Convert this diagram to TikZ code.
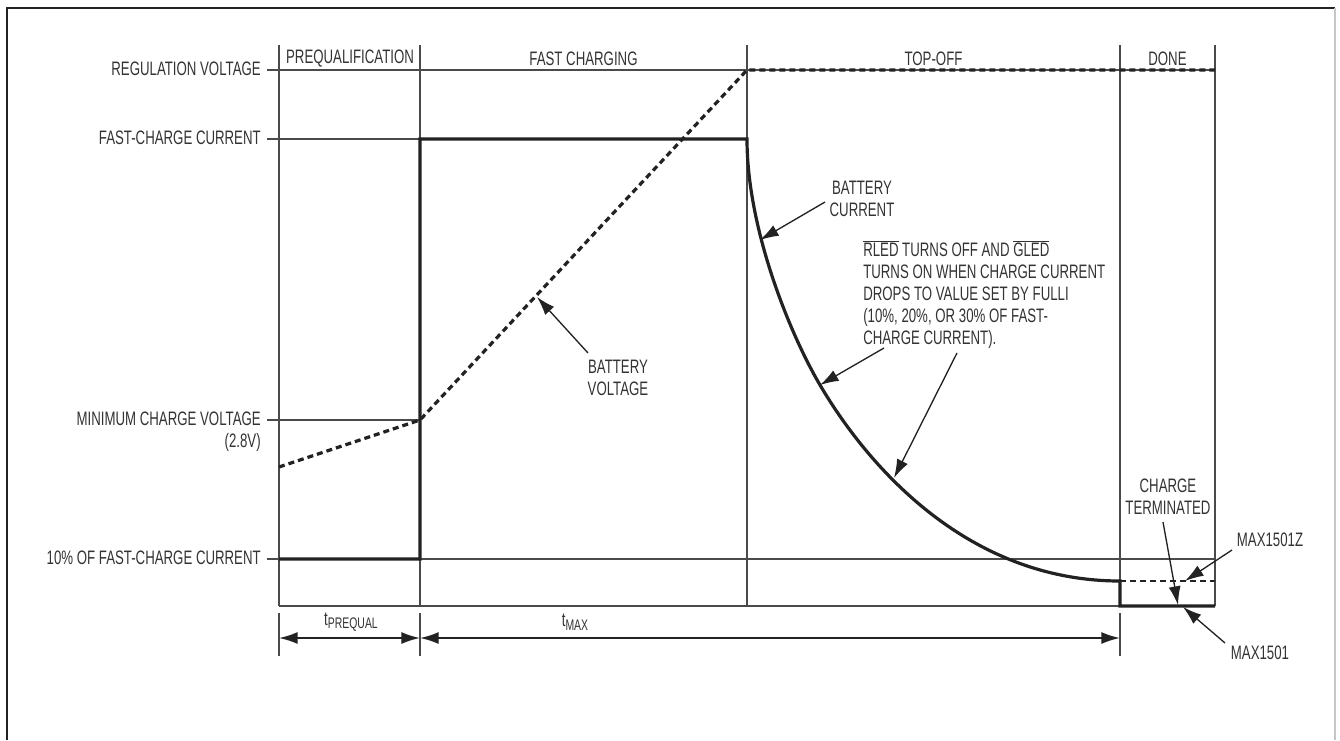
\documentclass[tikz,border=0pt]{standalone}
\usepackage{fontspec}
\setmainfont[FakeStretch=0.68]{Liberation Sans}
\usetikzlibrary{arrows.meta}
\definecolor{txt}{HTML}{333333}
\definecolor{ln}{HTML}{4A4A4A}
\definecolor{thk}{HTML}{222222}
\begin{document}
\begin{tikzpicture}[x=0.75pt,y=-0.75pt,
  lbl/.style={text=txt,font=\fontsize{14.6}{16.5}\selectfont,inner sep=0pt},
  gridline/.style={draw=ln,line width=0.8pt},
  curr/.style={draw=thk,line width=2.4pt,line join=miter},
  volt/.style={draw=thk,line width=2.4pt,dash pattern=on 4.5pt off 3pt},
  ptr/.style={draw=thk,line width=1pt,-{Latex[length=14pt,width=9pt]}},
  dimline/.style={draw=thk,line width=1.3pt,{Latex[length=14pt,width=9pt]}-{Latex[length=14pt,width=9pt]}}]
\useasboundingbox (0,0) rectangle (1340,740);
% frame
\draw[draw=thk,line width=2.2pt] (7,740) -- (7,8) -- (1335,8);
\draw[draw=gray!45,line width=0.8pt] (1335,8) -- (1335,740);
% grid verticals
\foreach \xx in {279,420,747,1120,1215} \draw[gridline] (\xx,45) -- (\xx,606);
% grid horizontals
\draw[gridline] (267,70) -- (1215,70);
\draw[gridline] (267,139) -- (420,139);
\draw[gridline] (267,420) -- (420,420);
\draw[gridline] (267,559) -- (1215,559);
\draw[gridline] (279,606) -- (1215,606);
% time ticks
\foreach \xx in {279,420,1120} \draw[gridline] (\xx,613) -- (\xx,656);
% axis labels
\node[lbl,anchor=east] (reg) at (261,69) {REGULATION VOLTAGE};
\node[lbl,anchor=east] (fcc) at (261,138) {FAST-CHARGE CURRENT};
\node[lbl,anchor=east] (mcv) at (261,419) {MINIMUM CHARGE VOLTAGE};
\node[lbl,anchor=east] (mcv2) at (261,442) {(2.8V)};
\node[lbl,anchor=east] (ten) at (261,558) {10\% OF FAST-CHARGE CURRENT};
% phase labels
\node[lbl] (pq) at (350,59) {PREQUALIFICATION};
\node[lbl] (fc) at (583.5,59) {FAST CHARGING};
\node[lbl] (to) at (933.5,59) {TOP-OFF};
\node[lbl] (dn) at (1167.5,59) {DONE};
% battery voltage
\draw[volt] (279,467) -- (420,420) -- (747,70) -- (1215,70);
% battery current
\draw[curr] (279,559) -- (420,559) -- (420,139) -- (747,139)
  .. controls (747,229) and (790,334) .. (820,385)
  .. controls (870,470) and (970,581) .. (1120,581) -- (1120,606) -- (1215,606);
\draw[volt,line width=2pt] (1120,581) -- (1215,581);
% annotations
\node[lbl,align=center] (bv) at (618,378) {BATTERY\\VOLTAGE};
\coordinate (bvs) at (588,353);
\coordinate (bvt) at (537,297);
\draw[ptr] (bvs) -- (bvt);
\node[lbl,align=center] (bc) at (862,199) {BATTERY\\CURRENT};
\coordinate (bcs) at (825,202);
\coordinate (bct) at (760,240);
\draw[ptr] (bcs) -- (bct);
\node[lbl,align=left,anchor=north west] (led) at (863,240) {$\overline{\mbox{RLED}}$ TURNS OFF AND $\overline{\mbox{GLED}}$\\TURNS ON WHEN CHARGE CURRENT\\DROPS TO VALUE SET BY FULLI\\(10\%, 20\%, OR 30\% OF FAST-\\CHARGE CURRENT).};
\coordinate (l1s) at (884,348);
\coordinate (l1t) at (820,385);
\coordinate (l2s) at (957,353);
\coordinate (l2t) at (894,478);
\draw[ptr] (l1s) -- (l1t);
\draw[ptr] (l2s) -- (l2t);
\node[lbl,align=center] (ct) at (1168,497) {CHARGE\\TERMINATED};
\coordinate (cts) at (1163,522);
\coordinate (ctt) at (1178,605);
\draw[ptr] (cts) -- (ctt);
\node[lbl] (mz) at (1270,540) {MAX1501Z};
\coordinate (mzs) at (1232,550);
\coordinate (mzt) at (1185,581);
\draw[ptr] (mzs) -- (mzt);
\node[lbl] (m1) at (1260,653) {MAX1501};
\coordinate (m1s) at (1225,643);
\coordinate (m1t) at (1183,607);
\draw[ptr] (m1s) -- (m1t);
% time dimensions
\coordinate (d0) at (279,638);
\coordinate (d1) at (420,638);
\coordinate (d2) at (1120,638);
\draw[dimline] (d0) -- (d1);
\draw[dimline] (d1) -- (d2);
\node[lbl] (tp) at (351,622) {t\raisebox{-0.35ex}{\fontsize{11.5}{12}\selectfont PREQUAL}};
\node[lbl] (tm) at (575,622) {t\raisebox{-0.35ex}{\fontsize{11.5}{12}\selectfont MAX}};
\end{tikzpicture}
\end{document}
